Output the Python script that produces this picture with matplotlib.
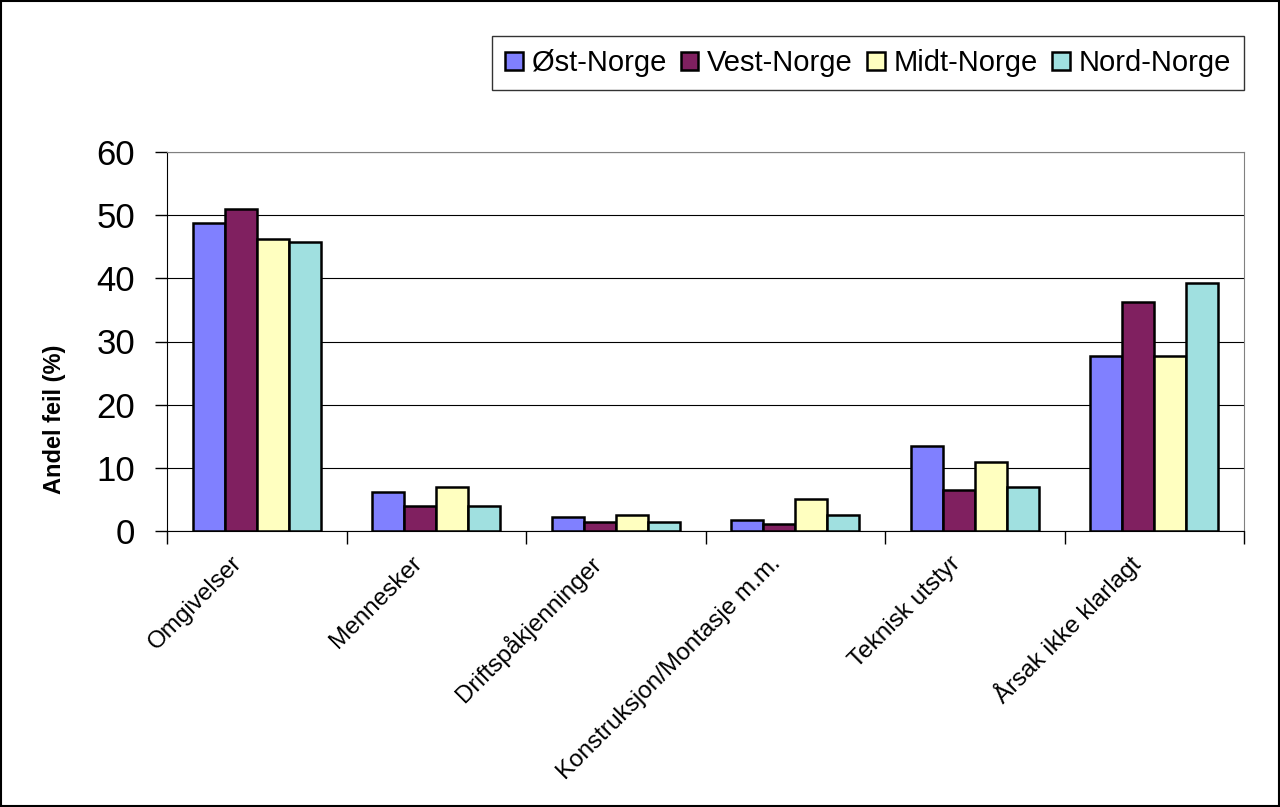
import numpy as np
import matplotlib
matplotlib.use("Agg")
import matplotlib.pyplot as plt
import matplotlib.transforms as mtransforms
from matplotlib.patches import Rectangle

kategorier = ["Omgivelser", "Mennesker", "Driftspåkjenninger",
              "Konstruksjon/Montasje m.m.", "Teknisk utstyr", "Årsak ikke klarlagt"]
regioner = ["Øst-Norge", "Vest-Norge", "Midt-Norge", "Nord-Norge"]
ost = [48.7, 6.2, 2.2, 1.8, 13.5, 27.7]
vest = [50.9, 3.9, 1.4, 1.1, 6.5, 36.2]
midt = [46.2, 6.9, 2.5, 5.1, 10.9, 27.7]
nord = [45.7, 4.0, 1.5, 2.5, 6.9, 39.2]
farger = ["#8080FF", "#802060", "#FFFFC0", "#A0E0E0"]

plt.rcParams['font.family'] = ['Liberation Sans', 'DejaVu Sans']

fig = plt.figure(figsize=(12.8, 8.07), dpi=100)
ax = fig.add_axes([167/1280, 1 - 531/807, (1244-167)/1280, (531-152)/807])

x = np.arange(len(kategorier))
w = 0.178
serier = [ost, vest, midt, nord]
for i, (navn, verdier) in enumerate(zip(regioner, serier)):
    ax.bar(x + (i - 1.5) * w, verdier, w, color=farger[i], edgecolor='black',
           linewidth=1.8, label=navn, zorder=3)

ax.set_xlim(-0.5, len(kategorier) - 0.5)
ax.set_ylim(0, 60)
ax.set_yticks(range(0, 61, 10))
ax.tick_params(axis='y', labelsize=25, direction='out', length=9, width=1, pad=14)
ax.yaxis.grid(True, color='black', linewidth=0.8, zorder=0)

# kategorigrenser som hovedmerker, navn som hjelpemerker
ax.set_xticks(np.arange(-0.5, len(kategorier), 1.0))
ax.set_xticklabels([])
ax.tick_params(axis='x', direction='out', length=9, width=1)
ax.set_xticks(x, minor=True)
ax.set_xticklabels(kategorier, minor=True, rotation=45, ha='right', va='center',
                   rotation_mode='anchor', fontsize=17.5)
ax.tick_params(axis='x', which='minor', length=0, pad=21)
skift = mtransforms.ScaledTranslation(-13/72, 0, fig.dpi_scale_trans)
for lbl in ax.get_xticklabels(minor=True):
    lbl.set_transform(lbl.get_transform() + skift)

for s in ['top', 'right']:
    ax.spines[s].set_color('#808080')
ax.spines['left'].set_color('black')
ax.spines['bottom'].set_color('black')

ax.set_ylabel("Andel feil (%)", fontsize=17, fontweight='bold')
ax.yaxis.set_label_coords(-0.094, 0.295)

leg = fig.legend(loc='upper right', bbox_to_anchor=(1244/1280, 1 - 36/807), ncol=4,
                 fontsize=21, frameon=True, fancybox=False, edgecolor='black',
                 handlelength=0.6, handleheight=0.6, handletextpad=0.3,
                 columnspacing=0.5, borderpad=0.45, borderaxespad=0)
leg.get_frame().set_linewidth(1)

fig.patches.append(Rectangle((0.001, 0.001), 0.998, 0.998, transform=fig.transFigure,
                             fill=False, edgecolor='black', linewidth=1.5))

fig.savefig("out.png", dpi=100)
